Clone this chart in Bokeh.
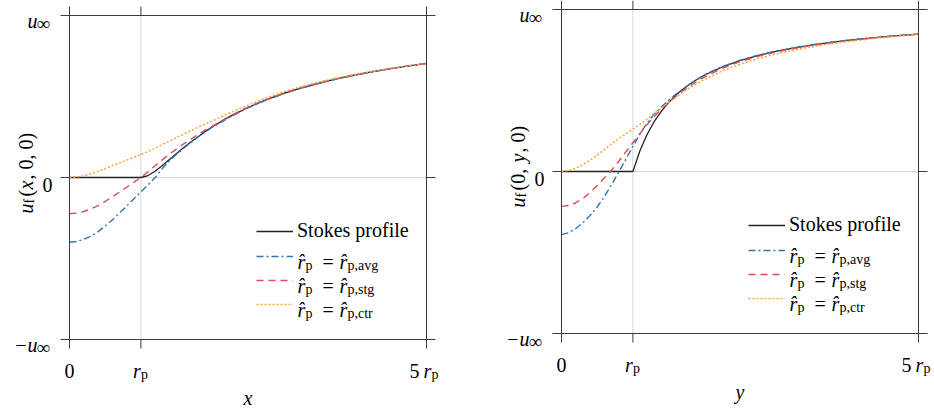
import math
from bokeh.plotting import figure
from bokeh.models import (ColumnDataSource, Range1d, Label, Legend, LegendItem)
from bokeh.core.properties import value
from bokeh.layouts import row
from bokeh.embed import file_html
from bokeh.resources import INLINE

# ---------------- data (normalised by u_inf, distances in r_p) ----------------
x_vals = [0.0, 0.1, 0.2, 0.3, 0.4, 0.5, 0.6, 0.7, 0.8, 0.9, 1.0,
          1.1, 1.2, 1.3, 1.4, 1.5, 1.6, 1.7, 1.8, 1.9, 2.0,
          2.25, 2.5, 2.75, 3.0, 3.25, 3.5, 3.75, 4.0, 4.25, 4.5, 4.75, 5.0]

# u_f(x, 0, 0)
stokes_x = [0, 0, 0, 0, 0, 0, 0, 0, 0, 0, 0,
            0.012, 0.039, 0.074, 0.111, 0.148, 0.185, 0.219, 0.252, 0.283, 0.313,
            0.377, 0.432, 0.479, 0.519, 0.553, 0.583, 0.610, 0.633, 0.654, 0.672, 0.689, 0.704]
avg_x = [-0.400, -0.395, -0.382, -0.362, -0.334, -0.300, -0.262, -0.220, -0.176, -0.132, -0.088,
         -0.045, 0.000, 0.055, 0.103, 0.143, 0.181, 0.216, 0.250, 0.281, 0.310,
         0.374, 0.430, 0.477, 0.517, 0.552, 0.582, 0.609, 0.632, 0.653, 0.672, 0.689, 0.704]
stg_x = [-0.224, -0.220, -0.210, -0.194, -0.173, -0.148, -0.120, -0.090, -0.060, -0.030, 0.000,
         0.036, 0.073, 0.109, 0.144, 0.177, 0.208, 0.237, 0.265, 0.292, 0.317,
         0.380, 0.435, 0.481, 0.520, 0.555, 0.584, 0.610, 0.633, 0.654, 0.672, 0.689, 0.704]
ctr_x = [0.000, 0.003, 0.011, 0.023, 0.038, 0.055, 0.073, 0.090, 0.107, 0.124, 0.142,
         0.161, 0.181, 0.203, 0.225, 0.247, 0.268, 0.289, 0.310, 0.330, 0.349,
         0.400, 0.447, 0.490, 0.529, 0.562, 0.591, 0.615, 0.637, 0.656, 0.674, 0.690, 0.704]

# u_f(0, y, 0)
stokes_y = [0, 0, 0, 0, 0, 0, 0, 0, 0, 0, 0,
            0.130, 0.230, 0.309, 0.373, 0.426, 0.470, 0.508, 0.540, 0.569, 0.594,
            0.645, 0.684, 0.715, 0.741, 0.762, 0.780, 0.795, 0.809, 0.820, 0.831, 0.840, 0.848]
avg_y = [-0.390, -0.378, -0.352, -0.316, -0.272, -0.219, -0.155, -0.082, -0.005, 0.075, 0.155,
         0.232, 0.300, 0.355, 0.400, 0.440, 0.476, 0.509, 0.540, 0.569, 0.596,
         0.648, 0.687, 0.718, 0.743, 0.764, 0.782, 0.797, 0.810, 0.821, 0.831, 0.840, 0.848]
stg_y = [-0.215, -0.210, -0.193, -0.166, -0.130, -0.087, -0.040, 0.008, 0.062, 0.120, 0.178,
         0.235, 0.290, 0.340, 0.385, 0.425, 0.462, 0.497, 0.528, 0.556, 0.582,
         0.637, 0.678, 0.711, 0.737, 0.759, 0.778, 0.793, 0.807, 0.819, 0.830, 0.839, 0.848]
ctr_y = [0.000, 0.005, 0.020, 0.043, 0.070, 0.101, 0.135, 0.170, 0.202, 0.232, 0.262,
         0.292, 0.324, 0.358, 0.392, 0.425, 0.458, 0.490, 0.518, 0.543, 0.567,
         0.620, 0.662, 0.697, 0.725, 0.749, 0.770, 0.787, 0.802, 0.815, 0.827, 0.838, 0.847]

x_ticks = [0, 1, 5]
y_ticks = [-1, 0, 1]
legend_subs = ["p,avg", "p,stg", "p,ctr"]

# ---------------- style ----------------
FONT = "Liberation Serif"
MAIN = 20
SUB = 14
INF = 19
FRAME = "#3a3a3a"
GRID = "#d6d6d6"
BLACK = "#222222"
BLUE = "#2f77ad"
RED = "#de4a5e"
ORANGE = "#f3a63c"
PANEL_W, PANEL_H = 467, 409
BOX_W, BOX_H = 357, 324
TICK = 9
X0, X1, Y0, Y1 = 0.0, 5.0, -1.0, 1.0


def txt(p, x, y, dx, dy, text, size=MAIN, style="normal", align="left", angle=0.0):
    # dx, dy: pixel offsets from a data anchor, dy positive = downwards on screen
    p.add_layout(Label(x=x, y=y, x_offset=dx, y_offset=-dy, text=text,
                       text_font=FONT, text_font_size=f"{size}px",
                       text_font_style=style, text_align=align,
                       text_baseline="alphabetic", text_color="#000000",
                       angle=angle))


def make_panel(xs, stokes, avg, stg, ctr, var, ylabel_parts, margins, xlab_dy):
    left, top = margins
    right = PANEL_W - left - BOX_W
    bottom = PANEL_H - top - BOX_H
    sx = BOX_W / (X1 - X0)
    sy = BOX_H / (Y1 - Y0)
    p = figure(width=PANEL_W, height=PANEL_H,
               x_range=Range1d(X0 - left / sx, X1 + right / sx),
               y_range=Range1d(Y0 - bottom / sy, Y1 + top / sy),
               x_axis_location=None, y_axis_location=None,
               output_backend="svg", toolbar_location=None,
               min_border=0)
    p.grid.visible = False
    p.outline_line_color = None
    p.background_fill_color = "white"
    p.border_fill_color = "white"

    # light grid lines inside the box
    gx = [t for t in x_ticks if X0 < t < X1]
    gy = [t for t in y_ticks if Y0 < t < Y1]
    p.segment(x0=gx, y0=[Y0] * len(gx), x1=gx, y1=[Y1] * len(gx),
              line_color=GRID, line_width=1)
    p.segment(x0=[X0] * len(gy), y0=gy, x1=[X1] * len(gy), y1=gy,
              line_color=GRID, line_width=1)

    src = ColumnDataSource(dict(x=xs, stokes=stokes, avg=avg, stg=stg, ctr=ctr))
    r_s = p.line("x", "stokes", source=src, line_color=BLACK, line_width=1.3)
    r_a = p.line("x", "avg", source=src, line_color=BLUE, line_width=1.4,
                 line_dash="7 3 2 3")
    r_g = p.line("x", "stg", source=src, line_color=RED, line_width=1.4,
                 line_dash="7 5")
    r_c = p.line("x", "ctr", source=src, line_color=ORANGE, line_width=1.5,
                 line_dash="2 2")

    # frame box + outward ticks on all four sides
    p.segment(x0=[X0, X1, X0, X0], y0=[Y0, Y0, Y0, Y1],
              x1=[X0, X1, X1, X1], y1=[Y1, Y1, Y0, Y1],
              line_color=FRAME, line_width=1)
    tx = TICK / sx
    ty = TICK / sy
    p.segment(x0=x_ticks + x_ticks, y0=[Y0] * 3 + [Y1] * 3,
              x1=x_ticks + x_ticks, y1=[Y0 - ty] * 3 + [Y1 + ty] * 3,
              line_color=FRAME, line_width=1)
    p.segment(x0=[X0] * 3 + [X1] * 3, y0=y_ticks + y_ticks,
              x1=[X0 - tx] * 3 + [X1 + tx] * 3, y1=y_ticks + y_ticks,
              line_color=FRAME, line_width=1)

    legend = Legend(items=[LegendItem(label=value("Stokes profile"), renderers=[r_s]),
                           LegendItem(label=value(" "), renderers=[r_a]),
                           LegendItem(label=value(" "), renderers=[r_g]),
                           LegendItem(label=value(" "), renderers=[r_c])],
                    location=(left + 187, bottom + 25), orientation="vertical",
                    glyph_width=37, glyph_height=20, label_height=20,
                    spacing=4, padding=0, margin=0, label_standoff=4,
                    border_line_alpha=0, background_fill_alpha=0,
                    label_text_font=FONT, label_text_font_size=f"{MAIN}px",
                    label_text_color="#000000")
    p.add_layout(legend)

    # legend math rows
    for k, sub in enumerate(legend_subs):
        dyr = -83 + 24 * k
        txt(p, X1, Y0, -129, dyr + 5, "r\u0302", style="italic")
        txt(p, X1, Y0, -121, dyr + 9, "p", size=SUB)
        txt(p, X1, Y0, -104, dyr + 5, "=")
        txt(p, X1, Y0, -87, dyr + 5, "r\u0302", style="italic")
        txt(p, X1, Y0, -79, dyr + 9, sub, size=SUB)

    # y tick labels
    txt(p, X0, 1, -32, 5, "u", style="italic", align="right")
    txt(p, X0, 1, -33, 8, "\u221e", size=INF)
    txt(p, X0, 0, -17, 7, "0", align="right")
    txt(p, X0, -1, -43, 5, "\u2212", align="right")
    txt(p, X0, -1, -32, 5, "u", style="italic", align="right")
    txt(p, X0, -1, -33, 8, "\u221e", size=INF)

    # x tick labels
    txt(p, 0, Y0, 0, 31, "0", align="center")
    txt(p, 1, Y0, 0, 31, "r", style="italic", align="right")
    txt(p, 1, Y0, 0, 35, "p", size=SUB)
    txt(p, 5, Y0, -7, 31, "5", align="right")
    txt(p, 5, Y0, -3, 31, "r", style="italic")
    txt(p, 5, Y0, 5, 35, "p", size=SUB)

    # axis labels
    txt(p, (X0 + X1) / 2, Y0, 0, xlab_dy, var, style="italic", align="center")
    for text, style, size, along, shift in ylabel_parts:
        txt(p, X0, 0, -44 + shift, 36 - along, text, size=size, style=style,
            angle=math.pi / 2)
    return p


ylab_x = [("u", "italic", MAIN, 0, 0), ("f", "normal", SUB, 10, 4),
          ("(", "normal", MAIN, 17, 0), ("x", "italic", MAIN, 24, 0),
          (", 0, 0)", "normal", MAIN, 34, 0)]
ylab_y = [("u", "italic", MAIN, 0, 0), ("f", "normal", SUB, 10, 4),
          ("(0, ", "normal", MAIN, 17, 0), ("y", "italic", MAIN, 45, 0),
          (", 0)", "normal", MAIN, 55, 0)]

p1 = make_panel(x_vals, stokes_x, avg_x, stg_x, ctr_x, "x", ylab_x, (69, 15), 58)
p2 = make_panel(x_vals, stokes_y, avg_y, stg_y, ctr_y, "y", ylab_y, (94, 9), 58)

layout = row(p1, p2)
open("out.html", "w").write(file_html(layout, INLINE))
